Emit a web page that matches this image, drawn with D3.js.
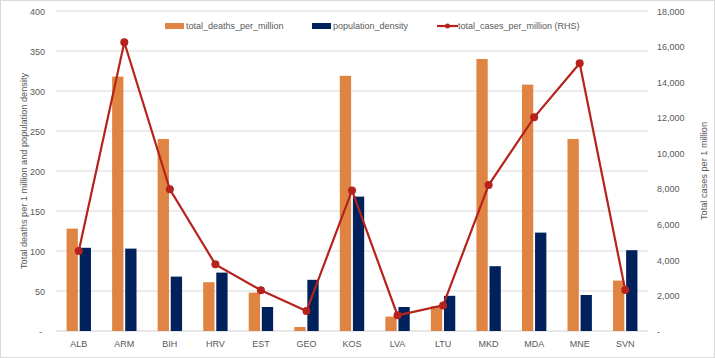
<!DOCTYPE html>
<html><head><meta charset="utf-8">
<script src="https://cdn.jsdelivr.net/npm/d3@7"></script>
<style>
body{margin:0;background:#fff;}
text{font-family:"Liberation Sans",Arial,sans-serif;fill:#595959;}
</style></head>
<body><svg id="c" width="715" height="358"></svg>
<script>
const categories=["ALB","ARM","BIH","HRV","EST","GEO","KOS","LVA","LTU","MKD","MDA","MNE","SVN"];
const deaths=[128,318,240,61,48,5,319,18,31,340,308,240,63];
const density=[104,103,68,73,30,64,168,30,44,81,123,45,101];
const cases=[4500,16240,7970,3750,2290,1120,7910,880,1440,8210,12020,15060,2300];
const leftTicks=[0,50,100,150,200,250,300,350,400];
const rightTicks=[0,2000,4000,6000,8000,10000,12000,14000,16000,18000];

const svg=d3.select("#c");
svg.append("rect").attr("x",0.5).attr("y",0.5).attr("width",714).attr("height",357).attr("fill","#fff").attr("stroke","#d9d9d9");
const L=56,R=648,T=11,B=331;
const x=d3.scaleBand().domain(categories).range([L,R]);
const yL=d3.scaleLinear().domain([0,400]).range([B,T]);
const yR=d3.scaleLinear().domain([0,18000]).range([B,T]);

// gridlines
svg.append("g").selectAll("line").data(leftTicks).join("line")
 .attr("x1",L).attr("x2",R).attr("y1",d=>yL(d)).attr("y2",d=>yL(d))
 .attr("stroke",d=>d===0?"#d0d0d0":"#d9d9d9").attr("stroke-width",1);

// left axis
const fmtL=d=>d===0?"-":d3.format(",")(d);
const fmtR=d=>d===0?"-":d3.format(",")(d);
const gl=svg.append("g").attr("transform",`translate(45,0)`).call(d3.axisLeft(yL).tickValues(leftTicks).tickFormat(fmtL).tickSize(0).tickPadding(0));
gl.select(".domain").remove();
gl.selectAll("text").attr("font-size",9).style("font-family","Liberation Sans, Arial, sans-serif").attr("fill","#595959").attr("dy","0.35em");
gl.selectAll("text").filter(d=>d===0).attr("dx",-3);
const gr=svg.append("g").attr("transform",`translate(657,0)`).call(d3.axisRight(yR).tickValues(rightTicks).tickFormat(fmtR).tickSize(0).tickPadding(0));
gr.select(".domain").remove();
gr.selectAll("text").attr("font-size",9).style("font-family","Liberation Sans, Arial, sans-serif").attr("fill","#595959").attr("dy","0.35em");

// x axis
const gx=svg.append("g").attr("transform",`translate(0,${B})`).call(d3.axisBottom(x).tickSize(0).tickPadding(10));
gx.select(".domain").remove();
gx.selectAll("text").attr("font-size",9).style("font-family","Liberation Sans, Arial, sans-serif").attr("fill","#595959");

const bw=11.3, gap=1.8;
svg.append("g").selectAll("rect").data(categories).join("rect")
 .attr("x",d=>x(d)+x.bandwidth()/2-bw-gap/2+0.0).attr("width",bw)
 .attr("y",(d,i)=>yL(deaths[i])).attr("height",(d,i)=>B-yL(deaths[i])).attr("fill","#e08443");
svg.append("g").selectAll("rect").data(categories).join("rect")
 .attr("x",d=>x(d)+x.bandwidth()/2+gap/2).attr("width",bw)
 .attr("y",(d,i)=>yL(density[i])).attr("height",(d,i)=>B-yL(density[i])).attr("fill","#00215b");

const line=d3.line().x((d,i)=>x(categories[i])+x.bandwidth()/2).y(d=>yR(d));
svg.append("path").datum(cases).attr("d",line).attr("fill","none").attr("stroke","#b5231c").attr("stroke-width",2.2);
svg.append("g").selectAll("circle").data(cases).join("circle")
 .attr("cx",(d,i)=>x(categories[i])+x.bandwidth()/2).attr("cy",d=>yR(d)).attr("r",4).attr("fill","#b5231c");

// axis titles
svg.append("text").attr("transform","translate(26.5,171) rotate(-90)").attr("text-anchor","middle").attr("font-size",9.2).text("Total deaths per 1 million and population density");
svg.append("text").attr("transform","translate(706.5,171) rotate(-90)").attr("text-anchor","middle").attr("font-size",9.2).text("Total cases per 1 million");

// legend
const lg=svg.append("g").attr("font-size",9);
lg.append("rect").attr("x",165).attr("y",23).attr("width",19).attr("height",6).attr("fill","#e08443");
lg.append("text").attr("x",186).attr("y",26).attr("dy","0.35em").attr("font-size",9).text("total_deaths_per_million");
lg.append("rect").attr("x",312).attr("y",23).attr("width",19).attr("height",6).attr("fill","#00215b");
lg.append("text").attr("x",333).attr("y",26).attr("dy","0.35em").attr("font-size",9).text("population_density");
lg.append("line").attr("x1",437).attr("x2",458).attr("y1",26).attr("y2",26).attr("stroke","#b5231c").attr("stroke-width",2.2);
lg.append("circle").attr("cx",447.5).attr("cy",26).attr("r",2.5).attr("fill","#b5231c");
lg.append("text").attr("x",458).attr("y",26).attr("dy","0.35em").attr("font-size",9).text("total_cases_per_million (RHS)");
</script></body></html>
